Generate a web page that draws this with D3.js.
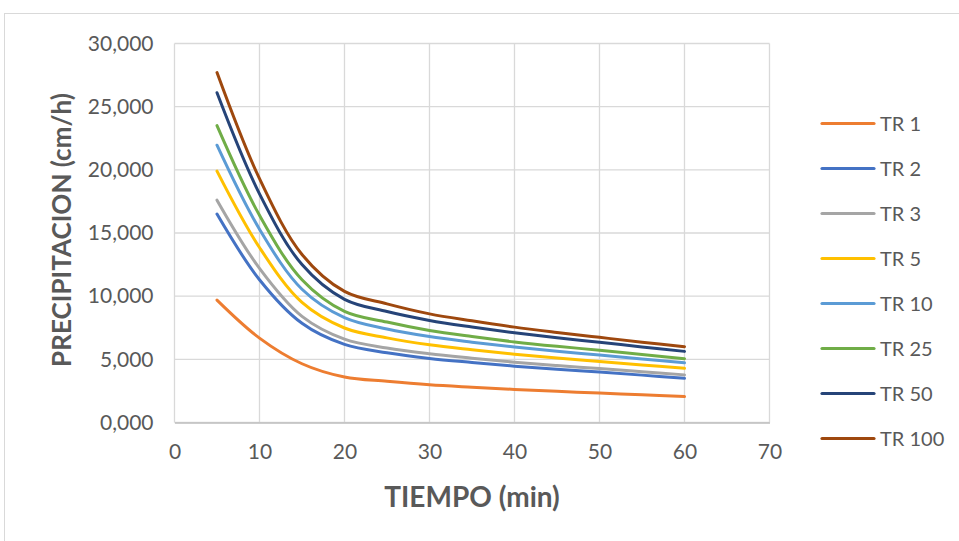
<!DOCTYPE html>
<html>
<head>
<meta charset="utf-8">
<script src="https://cdn.jsdelivr.net/npm/d3@7"></script>
<style>
  body { margin: 0; background: #fff; }
  svg { display: block; font-family: Lato, "Open Sans", sans-serif; }
</style>
</head>
<body>
<div id="chart"></div>
<script>
const tiempo = [5, 10, 15, 20, 25, 30, 35, 40, 45, 50, 55, 60];
const seriesNames = ["TR 1", "TR 2", "TR 3", "TR 5", "TR 10", "TR 25", "TR 50", "TR 100"];
const tr1 = [9.69, 6.68, 4.65, 3.60, 3.26, 2.98, 2.79, 2.62, 2.47, 2.33, 2.19, 2.05];
const tr2 = [16.50, 11.30, 7.85, 6.18, 5.52, 5.07, 4.75, 4.46, 4.21, 3.99, 3.75, 3.50];
const tr3 = [17.60, 12.20, 8.40, 6.60, 5.90, 5.44, 5.09, 4.77, 4.51, 4.27, 4.02, 3.77];
const tr5 = [19.90, 13.85, 9.50, 7.48, 6.70, 6.15, 5.76, 5.41, 5.10, 4.83, 4.56, 4.29];
const tr10 = [21.95, 15.30, 10.55, 8.30, 7.40, 6.80, 6.36, 5.97, 5.64, 5.34, 5.03, 4.73];
const tr25 = [23.50, 16.40, 11.30, 8.80, 7.95, 7.28, 6.80, 6.38, 6.03, 5.72, 5.38, 5.05];
const tr50 = [26.10, 18.10, 12.50, 9.75, 8.78, 8.08, 7.56, 7.10, 6.70, 6.35, 5.98, 5.63];
const tr100 = [27.70, 19.30, 13.30, 10.38, 9.39, 8.60, 8.05, 7.55, 7.13, 6.74, 6.36, 6.00];
const xTicks = [0, 10, 20, 30, 40, 50, 60, 70];
const yTicks = [0, 5, 10, 15, 20, 25, 30];

const colors = ["#ED7D31", "#4472C4", "#A5A5A5", "#FFC000", "#5B9BD5", "#70AD47", "#264478", "#9E480E"];
const allValues = [tr1, tr2, tr3, tr5, tr10, tr25, tr50, tr100];
const series = seriesNames.map((name, i) => ({
  name,
  color: colors[i],
  points: tiempo.map((t, j) => ({ t, v: allValues[i][j] }))
}));

const width = 959, height = 541;
const plot = { left: 174.5, right: 769.5, top: 43.5, bottom: 422.5 };
const textColor = "#595959";
const gridColor = "#d9d9d9";

const esFormat = d3.formatLocale({ decimal: ",", thousands: ".", grouping: [3], currency: ["", ""] }).format(".3f");

const svg = d3.select("#chart").append("svg")
  .attr("width", width)
  .attr("height", height);

// marco exterior
svg.append("rect")
  .attr("x", 4.5).attr("y", 13.5)
  .attr("width", width).attr("height", height)
  .attr("fill", "none")
  .attr("stroke", gridColor);

const x = d3.scaleLinear().domain([0, 70]).range([plot.left, plot.right]);
const y = d3.scaleLinear().domain([0, 30]).range([plot.bottom, plot.top]);

// rejilla
svg.append("g")
  .selectAll("line")
  .data(yTicks)
  .join("line")
  .attr("x1", plot.left).attr("x2", plot.right)
  .attr("y1", d => y(d)).attr("y2", d => y(d))
  .attr("stroke", gridColor)
  .attr("stroke-width", 1.3);

svg.append("g")
  .selectAll("line")
  .data(xTicks)
  .join("line")
  .attr("x1", d => x(d)).attr("x2", d => x(d))
  .attr("y1", plot.top).attr("y2", plot.bottom)
  .attr("stroke", gridColor)
  .attr("stroke-width", 1.3);

// ejes
const xAxis = svg.append("g")
  .attr("transform", `translate(0,${plot.bottom})`)
  .call(d3.axisBottom(x).tickValues(xTicks).tickSize(0).tickPadding(22));
xAxis.select(".domain").attr("stroke", "#bfbfbf").attr("stroke-width", 1.3);

const yAxis = svg.append("g")
  .attr("transform", `translate(${plot.left},0)`)
  .call(d3.axisLeft(y).tickValues(yTicks).tickFormat(esFormat).tickSize(0).tickPadding(21));
yAxis.select(".domain").remove();

svg.selectAll(".tick text")
  .attr("fill", textColor)
  .style("font-size", "21px")
  .style("font-family", "Lato, sans-serif");

// lineas
const line = d3.line()
  .x(d => x(d.t))
  .y(d => y(d.v))
  .curve(d3.curveCatmullRom.alpha(0.5));

svg.append("g")
  .selectAll("path")
  .data(series)
  .join("path")
  .attr("d", d => line(d.points))
  .attr("fill", "none")
  .attr("stroke", d => d.color)
  .attr("stroke-width", 3)
  .attr("stroke-linecap", "round")
  .attr("stroke-linejoin", "round");

// titulos
svg.append("text")
  .attr("x", 472)
  .attr("y", 507)
  .attr("text-anchor", "middle")
  .attr("fill", textColor)
  .style("font-size", "28px")
  .style("font-weight", "bold")
  .text("TIEMPO (min)");

svg.append("text")
  .attr("transform", `translate(71,230) rotate(-90)`)
  .attr("text-anchor", "middle")
  .attr("fill", textColor)
  .style("font-size", "26px")
  .style("font-weight", "bold")
  .text("PRECIPITACION (cm/h)");

// leyenda
const legend = svg.append("g");
series.forEach((s, i) => {
  const ly = 123.5 + i * 45;
  legend.append("line")
    .attr("x1", 822).attr("x2", 874)
    .attr("y1", ly).attr("y2", ly)
    .attr("stroke", s.color)
    .attr("stroke-width", 3.2)
    .attr("stroke-linecap", "round");
  legend.append("text")
    .attr("x", 880)
    .attr("y", ly)
    .attr("dy", "0.35em")
    .attr("fill", textColor)
    .style("font-size", "20px")
    .text(s.name);
});
</script>
</body>
</html>
